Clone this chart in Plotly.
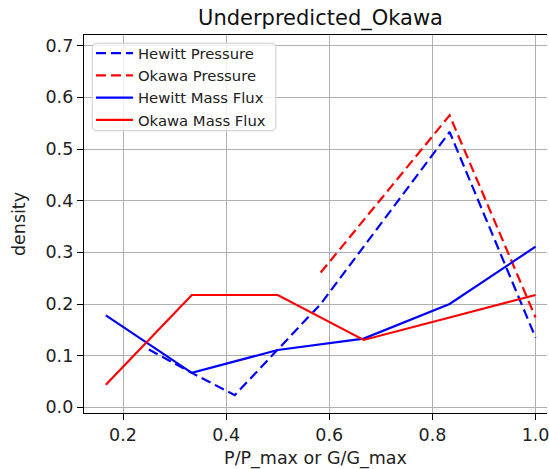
import plotly.graph_objects as go

# Normalised operating points
p_ratio_hewitt = [0.25, 1/3, 5/12, 7/12, 5/6, 1.0]
p_ratio_okawa = [7/12, 5/6, 1.0]
g_ratio = [1/6, 1/3, 0.5, 2/3, 5/6, 1.0]

# Densities of underpredicted points
hewitt_pressure = [0.112, 0.0667, 0.0235, 0.200, 0.533, 0.135]
okawa_pressure = [0.2609, 0.5652, 0.1739]
hewitt_mass_flux = [0.178, 0.0667, 0.111, 0.133, 0.200, 0.311]
okawa_mass_flux = [0.0435, 0.2174, 0.2174, 0.1304, 0.1739, 0.2174]

x_ticks = [0.2, 0.4, 0.6, 0.8, 1.0]
y_ticks = [0.0, 0.1, 0.2, 0.3, 0.4, 0.5, 0.6, 0.7]

FONT = "DejaVu Sans"
BLUE = "#0000ff"
RED = "#ff0000"
LW = 2.2
DASH = "10px,5px"

# plot-area geometry in pixels
W, H = 549, 469
L, R, T, B = 84, 0, 35, 56
PW, PH = W - L - R, H - T - B


def px_x(px):
    return (px - L) / PW


def px_y(py):
    return (H - B - py) / PH


fig = go.Figure()
fig.add_trace(go.Scatter(x=p_ratio_hewitt, y=hewitt_pressure, mode="lines",
                         name="Hewitt Pressure",
                         line=dict(color=BLUE, width=LW, dash=DASH)))
fig.add_trace(go.Scatter(x=p_ratio_okawa, y=okawa_pressure, mode="lines",
                         name="Okawa Pressure",
                         line=dict(color=RED, width=LW, dash=DASH)))
fig.add_trace(go.Scatter(x=g_ratio, y=hewitt_mass_flux, mode="lines",
                         name="Hewitt Mass Flux",
                         line=dict(color=BLUE, width=LW)))
fig.add_trace(go.Scatter(x=g_ratio, y=okawa_mass_flux, mode="lines",
                         name="Okawa Mass Flux",
                         line=dict(color=RED, width=LW)))

axis_common = dict(
    showgrid=True, gridcolor="#b0b0b0", gridwidth=1.3,
    showline=True, linecolor="black", linewidth=1.4,
    ticks="outside", ticklen=6, tickwidth=1.4, tickcolor="black",
    tickfont=dict(family=FONT, size=17.5, color="#222222"),
    zeroline=False,
)

fig.update_xaxes(
    range=[0.1243, 1.0222], tickvals=x_ticks,
    ticktext=[f"{v:.1f}" for v in x_ticks], mirror=True,
    ticklabeloverflow="allow",
    title=dict(text="P/P_max or G/G_max",
               font=dict(family=FONT, size=17.5, color="#222222"), standoff=8),
    **axis_common,
)
fig.update_yaxes(
    range=[-0.011, 0.7207], tickvals=y_ticks,
    ticktext=[f"{v:.1f}" for v in y_ticks],
    title=dict(text="density",
               font=dict(family=FONT, size=17.5, color="#222222"), standoff=15),
    **axis_common,
)

# legend frame with rounded corners
x0, x1 = px_x(92.3), px_x(276.7)
y0, y1 = px_y(130.7), px_y(43.3)
rx, ry = 4 / PW, 4 / PH
frame = (f"M{x0 + rx},{y1} L{x1 - rx},{y1} Q{x1},{y1} {x1},{y1 - ry} "
         f"L{x1},{y0 + ry} Q{x1},{y0} {x1 - rx},{y0} "
         f"L{x0 + rx},{y0} Q{x0},{y0} {x0},{y0 + ry} "
         f"L{x0},{y1 - ry} Q{x0},{y1} {x0 + rx},{y1} Z")
fig.add_shape(type="path", path=frame, xref="paper", yref="paper",
              fillcolor="rgba(255,255,255,0.8)",
              line=dict(color="#cccccc", width=1), layer="above")

fig.update_layout(
    width=W, height=H,
    margin=dict(l=L, r=R, t=T, b=B),
    paper_bgcolor="white", plot_bgcolor="white",
    title=dict(text="Underpredicted_Okawa", x=0.5108, xref="paper", xanchor="center",
               y=1 - 18 / H, yref="container", yanchor="middle",
               font=dict(family=FONT, size=21, color="#111111")),
    legend=dict(x=px_x(91), y=px_y(37), xanchor="left", yanchor="top",
                bgcolor="rgba(0,0,0,0)", borderwidth=0,
                font=dict(family=FONT, size=14.8, color="#222222"),
                itemwidth=37, tracegroupgap=0),
    showlegend=True,
)

fig.write_html("out.html")
